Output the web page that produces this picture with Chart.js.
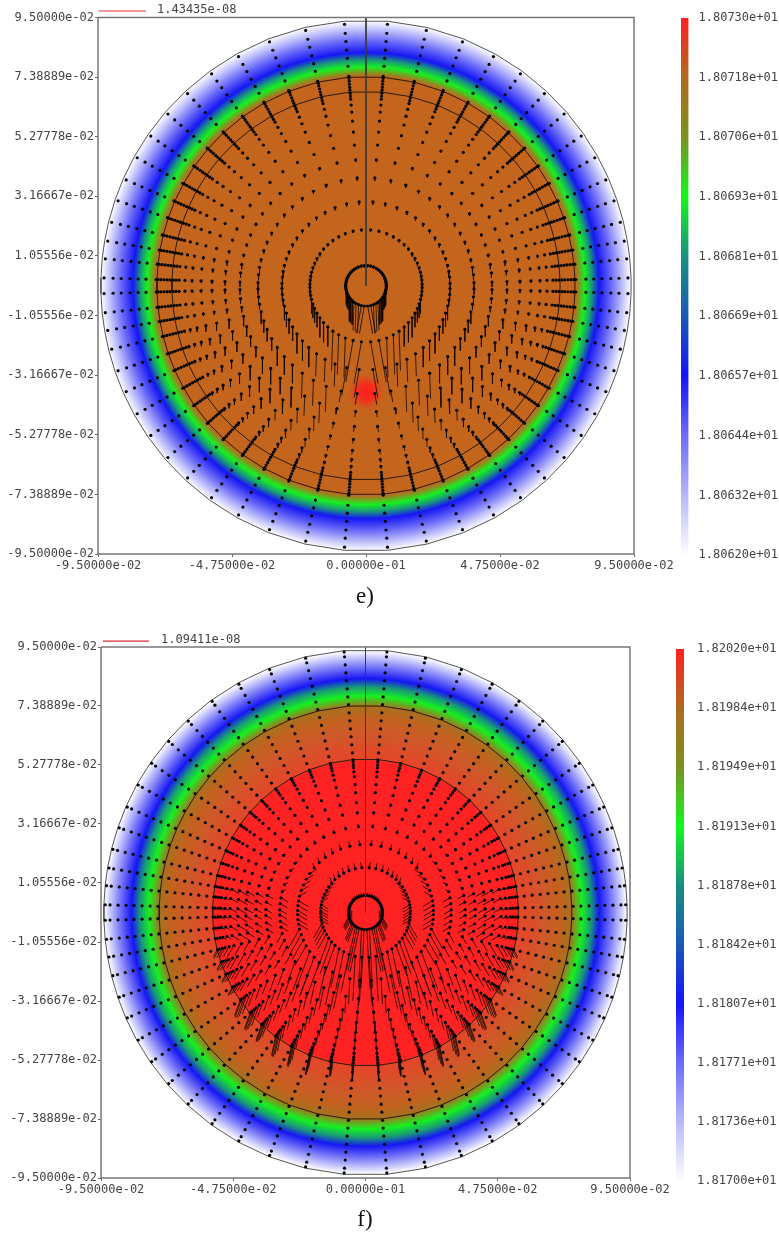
<!DOCTYPE html>
<html><head><meta charset="utf-8">
<script src="https://cdn.jsdelivr.net/npm/chart.js@4"></script>
<style>
html,body{margin:0;padding:0;background:#fff;width:779px;height:1237px;overflow:hidden}
canvas{position:absolute;display:block}
#wrap canvas{filter:blur(.35px)}
.t{position:absolute;white-space:pre;color:#444;font:12px "DejaVu Sans Mono",monospace;filter:blur(.25px)}
.c{position:absolute;width:60px;text-align:center;color:#111;font:23px "Liberation Serif",serif}
</style></head><body><div id="wrap"></div>
<div class="t" style="left:157px;top:2px">1.43435e-08</div>
<div class="t" style="left:161px;top:632px">1.09411e-08</div>
<div class="c" style="left:335px;top:583px">e)</div>
<div class="c" style="left:335px;top:1206px">f)</div>
<script>
// ---- axes ----
const xTickValues=[-0.095,-0.0475,0,0.0475,0.095];
const xTickLabels=['-9.50000e-02','-4.75000e-02','0.00000e-01','4.75000e-02','9.50000e-02'];
const yTickValues=[0.095,0.0738889,0.0527778,0.0316667,0.0105556,-0.0105556,-0.0316667,-0.0527778,-0.0738889,-0.095];
const yTickLabels=['9.50000e-02','7.38889e-02','5.27778e-02','3.16667e-02','1.05556e-02','-1.05556e-02','-3.16667e-02','-5.27778e-02','-7.38889e-02','-9.50000e-02'];
// ---- colour bars ----
const barTicksE=[18.0730,18.07178,18.07056,18.06933,18.06811,18.06689,18.06567,18.06444,18.06322,18.0620];
const barTicksF=[18.2020,18.19844,18.19489,18.19133,18.18778,18.18422,18.18067,18.17711,18.17356,18.1700];
const barStops=[[0,'#ff2020'],[0.111,'#b06a20'],[0.222,'#7a9020'],[0.333,'#14f81e'],[0.444,'#189080'],[0.556,'#1a58b8'],[0.667,'#1414fa'],[0.778,'#6c6cf8'],[0.889,'#b8b8fb'],[1,'#ffffff']];
// ---- grid of nodes: ray angles (deg from the horizontal), ring radii (1e-3 units) ----
const rayAngles=[1.7,5.9,9.8,14,18.9,23.8,29.2,34.8,40.9,47.1,53.9,60.9,68.4,76.7,85.3];
const ringsE=[7.2,19.9,29.8,38.3,44.7,50,54.6,58.5,61.7,64.2,66.3,67.4,68.4,69.5,70.5,71.6,72.7,73.7,74.4,78,80.8,83.7,86.8,89.7,92.9];
const ringsF=[6.1,16.1,24.4,30.8,35.8,39.4,43,45.9,48.7,50.5,52,53,54.1,54.8,57.3,60.2,63.1,65.9,68.8,71.7,74.6,77.4,80.3,83.2,86,88.9,91.8,93.5];
// ---- circles drawn on the plot (1e-3 units) ----
const outerRadius=[94];
const linesE=[7.2,68.8,74.1];
const linesF=[6.1,54.9,74.1];
// ---- field: radial colour stops (radius in 1e-3 units, colour) ----
const discE=[[0,'#c4651e'],[74.3,'#c4651e'],[75.3,'#8f8a20'],[77.6,'#16f020'],[80,'#189a78'],[82.6,'#1616f4'],[87,'#6c6cf8'],[90.5,'#b8b8fb'],[94,'#ffffff']];
const discF=[[0,'#ff2222'],[54.2,'#ff2222'],[55.4,'#e4462a'],[60,'#da4e28'],[64,'#d0582a'],[70,'#c2621f'],[74,'#a8701f'],[75.4,'#72a020'],[77.8,'#16f020'],[81,'#189a78'],[84,'#1616f4'],[87.8,'#6c6cf8'],[91,'#b8b8fb'],[94,'#ffffff']];
const hotSpotE=[0,-37.6,7.4];
// ---- velocity tails: length (1e-3 units) per ring, per sector of angle measured from straight down ----
const tailSectors=[0,20,40,60,80,100,130,180];
const tailLeanE=[-10,-2,0,0,0,0,0,0];
const tailLeanF=[-3,-12,-20,-30,60,120,195,200];
const tailsE=[
[10,10,8.5,5,2,1,.7,.4],[15,14,7,5,1.8,1,.7,.7],[10,8,7,5,2,1,1,.7],[4,9,6.5,4.3,2,1,1,.7],
[2,7,5.7,3.6,1.8,.7,.7,.4],[2,5,5,3.2,1.4,.7,.4,.4],[1.5,3.6,3.6,2.8,1,.4,.4,.4],[1.5,2.8,2.5,2.1,.7,.4,.4,.4],
[1,1.8,1.8,1.4,.7,.4,.4,.4],[1,1.4,1.4,1,.4,.3,.3,.3],[3,1,1,.7,.3,.3,.3,.3]];
const tailsF=[
[21,16,6.5,4,1.5,1,1,.8],[16,14,12,6,3,2.5,2,1.4],[9,12,14,8,4,2.9,1.8,1],[6,8,8,4,3,1.5,1,.7],
[4,6,6,3,2.5,1,.7,.7],[3.5,5.5,6,3.5,2.5,.7,.7,.4],[3,4.5,5,4,3,.7,.7,.4],[3.5,5,5.5,5,4,.7,.4,.4],
[4,6,6,5,3,.4,.4,.4],[7,9,8,4,1.5,.5,.4,.4],[7,9,8,4,1.5,.5,.4,.4],[7,9,8,4,1,.4,.3,.3],
[6,8,7,4,1,.3,.3,.3],[5,7,6,3,1,.3,.3,.3]];
// ---- legend arrow ----
const arrowE=[[-94.7,97.3],[-78,97.3]];
const arrowF=[[-94.3,97.1],[-77.8,97.1]];

const mu=1e-3, rad=Math.PI/180;
Chart.defaults.devicePixelRatio=1;
const half=[...rayAngles.slice().reverse().map(a=>-a),...rayAngles];
const rays=[...half.map(a=>[Math.cos(a*rad),Math.sin(a*rad),a]),...half.slice().reverse().map(a=>[-Math.cos(a*rad),Math.sin(a*rad),a])];
function circle(r,cy=0){const p=rays.map(q=>({x:q[0]*r*mu,y:(cy+q[1]*r)*mu}));p.push(p[0]);return p;}
function nodes(rings){const o=[];for(const r of rings)for(const q of rays)o.push({x:q[0]*r*mu,y:q[1]*r*mu});return o;}
function tails(rings,table,lean){const o=[];
  table.forEach((row,i)=>{const r=rings[i];for(const q of rays){
    const fromDown=90+q[2];let s=0;for(let k=0;k<tailSectors.length;k++)if(fromDown>=tailSectors[k])s=k;
    const L=row[s],d=lean[s]*rad,sx=q[0]>0?-1:1;
    const x0=q[0]*r*mu,y0=q[1]*r*mu;
    o.push({x:x0,y:y0},{x:x0+sx*Math.sin(d)*L*mu,y:y0-Math.cos(d)*L*mu},{x:null,y:null});
  }});return o;}
function radial(stops,maxR){return ctx=>{const c=ctx.chart;if(!c.chartArea)return 'transparent';
  const X=c.scales.x,Y=c.scales.y,cx=X.getPixelForValue(0),cp=Y.getPixelForValue(0),R=X.getPixelForValue(maxR*mu)-cx;
  const g=c.ctx.createRadialGradient(cx,cp,0,cx,cp,R);
  for(const s of stops)g.addColorStop(Math.min(1,s[0]/maxR),s[1]);return g;};}
function addCanvas(w,h,left,top){const cv=document.createElement('canvas');cv.width=w;cv.height=h;cv.style.left=left+'px';cv.style.top=top+'px';document.getElementById('wrap').appendChild(cv);return cv;}

function panel(o){
  const cv=addCanvas(680,620,0,o.top);
  const ds=[];
  const line=(data,extra)=>ds.push(Object.assign({data,showLine:true,pointRadius:0,borderWidth:1,tension:0,fill:false},extra));
  line(circle(outerRadius[0]),{fill:'shape',backgroundColor:radial(o.disc,outerRadius[0]),borderColor:'#555',order:10});
  if(o.spot)line(circle(o.spot[2],o.spot[1]),{fill:'shape',borderWidth:0,borderColor:'transparent',
    backgroundColor:ctx=>{const c=ctx.chart;if(!c.chartArea)return 'transparent';const X=c.scales.x,Y=c.scales.y,cx=X.getPixelForValue(0),cp=Y.getPixelForValue(o.spot[1]*mu),R=X.getPixelForValue(o.spot[2]*mu)-cx;
      const g=c.ctx.createRadialGradient(cx,cp,0,cx,cp,R);g.addColorStop(0,'rgba(255,28,28,1)');g.addColorStop(.45,'rgba(250,40,28,.85)');g.addColorStop(1,'rgba(196,101,30,0)');return g;},order:9});
  o.lines.forEach(r=>line(circle(r),{borderColor:'#2a1a08',order:6}));
  line(tails(o.rings,o.tails,o.lean),{borderColor:'rgba(20,8,0,.8)',borderWidth:1,spanGaps:false,order:5});
  ds.push({data:nodes(o.rings),pointRadius:1.6,pointBorderWidth:0,pointBackgroundColor:'#050505',showLine:false,order:4});
  line([{x:0,y:0.095},{x:0,y:0}],{borderColor:'#3a3a3a',order:3});
  line([{x:-0.095,y:0.095},{x:0.095,y:0.095},{x:0.095,y:-0.095},{x:-0.095,y:-0.095},{x:-0.095,y:0.095}],{borderColor:'#777',borderWidth:1.5,clip:false,order:2});
  ds.push({data:o.arrow.map(p=>({x:p[0]*mu,y:p[1]*mu})),showLine:true,borderColor:'#e02838',borderWidth:1.2,pointRadius:[1.8,0],pointBackgroundColor:'#e01020',pointBorderWidth:0,clip:false,order:1});
  const tickFont={family:'"DejaVu Sans Mono",monospace',size:12};
  new Chart(cv,{type:'scatter',data:{datasets:ds},options:{
    responsive:false,animation:false,events:[],
    layout:{autoPadding:false,padding:o.pad},
    plugins:{legend:{display:false},tooltip:{enabled:false}},
    scales:{
      x:{type:'linear',min:-0.095,max:0.095,afterBuildTicks:s=>{s.ticks=xTickValues.map(v=>({value:v}));},afterFit:s=>{s.height=30;},
        grid:{drawOnChartArea:false,tickLength:3,color:'#666'},border:{display:false},
        ticks:{autoSkip:false,maxRotation:0,minRotation:0,padding:2,color:'#444',font:tickFont,callback:(v,i)=>xTickLabels[i]}},
      y:{type:'linear',min:-0.095,max:0.095,afterBuildTicks:s=>{s.ticks=yTickValues.map(v=>({value:v}));},afterFit:s=>{s.width=o.left;},
        grid:{drawOnChartArea:false,tickLength:3,color:'#666'},border:{display:false},
        ticks:{autoSkip:false,padding:1,color:'#444',font:tickFont,callback:(v,i)=>yTickLabels[i]}}
    }}});
}
function colorBar(o){
  const cv=addCanvas(o.w,o.h,o.left,o.top);
  const lo=o.ticks[o.ticks.length-1],hi=o.ticks[0];
  new Chart(cv,{type:'bar',data:{labels:['T'],datasets:[{data:[[lo,hi]],barPercentage:1,categoryPercentage:1,borderWidth:0,
    backgroundColor:ctx=>{const c=ctx.chart;if(!c.chartArea)return '#888';const g=c.ctx.createLinearGradient(0,c.chartArea.top,0,c.chartArea.bottom);
      for(const s of barStops)g.addColorStop(s[0],s[1]);return g;}}]},
    options:{responsive:false,animation:false,events:[],layout:{autoPadding:false,padding:o.pad},
      plugins:{legend:{display:false},tooltip:{enabled:false}},
      scales:{x:{display:false},
        y:{position:'right',min:lo,max:hi,grid:{display:false},border:{display:false},
          afterBuildTicks:s=>{s.ticks=o.ticks.map(v=>({value:v}));},afterFit:s=>{s.width=o.w-o.barW;},
          ticks:{autoSkip:false,padding:o.gap,color:'#444',font:{family:'"DejaVu Sans Mono",monospace',size:12},callback:v=>v.toExponential(5).replace(/e\+(\d)$/,'e+0$1')}}}}});
}
panel({top:0,left:98,pad:{left:0,top:17.5,right:46,bottom:36},rings:ringsE,tails:tailsE,lean:tailLeanE,lines:linesE,disc:discE,spot:hotSpotE,arrow:arrowE});
panel({top:625,left:101,pad:{left:0,top:22,right:50,bottom:37},rings:ringsF,tails:tailsF,lean:tailLeanF,lines:linesF,disc:discF,arrow:arrowF});
colorBar({left:681,top:0,w:98,h:600,barW:7.5,gap:2,pad:{left:0,top:18,right:0,bottom:45},ticks:barTicksE});
colorBar({left:676,top:625,w:103,h:612,barW:8,gap:5,pad:{left:0,top:24,right:0,bottom:56},ticks:barTicksF});
</script></body></html>
